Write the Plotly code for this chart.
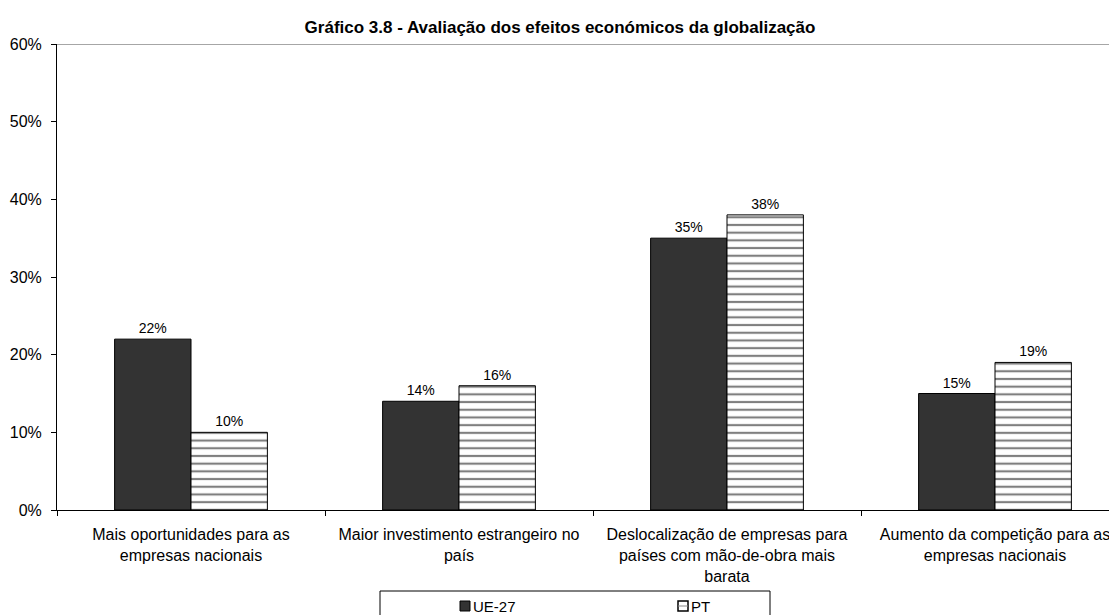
import plotly.graph_objects as go

categories = [
    "Mais oportunidades para as<br>empresas nacionais",
    "Maior investimento estrangeiro no<br>país",
    "Deslocalização de empresas para<br>países com mão-de-obra mais<br>barata",
    "Aumento da competição para as<br>empresas nacionais",
]
ue27 = [22, 14, 35, 15]
pt = [10, 16, 38, 19]
series_names = ["UE-27", "PT"]
y_ticks = [0, 10, 20, 30, 40, 50, 60]
y_tick_labels = [f"{v}%" for v in y_ticks]

font_family = "Liberation Sans, Arial, sans-serif"
W, H = 1117, 615
OFF = 8  # page body offset
ML, MR, MT, MB = 57 - OFF, 0, 44 - OFF, H - (510 - OFF)
PW, PH = W - ML - MR, H - MT - MB
CAT_W = 268.0


def px_x(px):
    return (px - OFF - ML) / PW


def px_y(py):
    return (H - MB - (py - OFF)) / PH


fig = go.Figure()
fig.add_trace(go.Bar(
    name=series_names[0], x=categories, y=ue27,
    marker=dict(color="#333333", line=dict(color="#000000", width=1)),
    text=[f"{v}%" for v in ue27], textposition="outside",
    textfont=dict(size=14, color="#000000", family=font_family),
    cliponaxis=False,
))
fig.add_trace(go.Bar(
    name=series_names[1], x=categories, y=pt,
    marker=dict(color="#ffffff", line=dict(color="#000000", width=1),
                pattern=dict(shape="-", fgcolor="#000000", bgcolor="#ffffff",
                             size=7.7, solidity=0.28)),
    text=[f"{v}%" for v in pt], textposition="outside",
    textfont=dict(size=14, color="#000000", family=font_family),
    cliponaxis=False,
))

# top border line of plot area
fig.add_shape(type="line", xref="paper", yref="y", x0=0, x1=1, y0=60, y1=60,
              line=dict(color="#a6a6a6", width=2))

# manual legend (box, swatches, labels)
fig.add_shape(type="rect", xref="paper", yref="paper",
              x0=px_x(380), x1=px_x(770), y0=px_y(591), y1=px_y(640),
              line=dict(color="#000000", width=1), fillcolor="rgba(0,0,0,0)")
fig.add_shape(type="rect", xref="paper", yref="paper",
              x0=px_x(460), x1=px_x(470), y0=px_y(601), y1=px_y(611),
              line=dict(color="#000000", width=1), fillcolor="#333333")
fig.add_shape(type="rect", xref="paper", yref="paper",
              x0=px_x(678), x1=px_x(688), y0=px_y(601), y1=px_y(611),
              line=dict(color="#000000", width=1.5), fillcolor="#ffffff")
fig.add_shape(type="line", xref="paper", yref="paper",
              x0=px_x(678), x1=px_x(688), y0=px_y(606), y1=px_y(606),
              line=dict(color="#888888", width=1))
for name, lx in zip(series_names, [471, 689]):
    fig.add_annotation(text=name, xref="paper", yref="paper",
                       x=px_x(lx), y=px_y(606), xanchor="left", yanchor="middle",
                       showarrow=False,
                       font=dict(size=15, family=font_family, color="#000000"))

fig.update_layout(
    width=W, height=H,
    margin=dict(l=ML, r=MR, t=MT, b=MB, autoexpand=False),
    paper_bgcolor="#ffffff", plot_bgcolor="#ffffff",
    barmode="group", bargap=0.43, bargroupgap=0,
    font=dict(family=font_family, size=16, color="#000000"),
    title=dict(text="<b>Gráfico 3.8 - Avaliação dos efeitos económicos da globalização</b>",
               x=(560 - OFF) / W, xanchor="center", y=1 - (27 - OFF) / H, yanchor="middle",
               font=dict(size=17, family=font_family, color="#000000")),
    showlegend=False,
    xaxis=dict(
        type="category", range=[-0.5, -0.5 + PW / CAT_W], tickson="boundaries",
        ticks="outside", ticklen=5, tickcolor="#000000",
        showline=True, linecolor="#000000", linewidth=1,
        showgrid=False, tickfont=dict(size=16, family=font_family),
        ticklabelstandoff=10,
        automargin=False,
    ),
    yaxis=dict(
        range=[0, 60], tickvals=y_ticks, ticktext=y_tick_labels,
        ticks="outside", ticklen=5, tickcolor="#000000",
        showline=True, linecolor="#000000", linewidth=1,
        showgrid=False, zeroline=False, ticklabelstandoff=6,
        tickfont=dict(size=16, family=font_family),
        automargin=False,
    ),
)

fig.write_html("out.html")
